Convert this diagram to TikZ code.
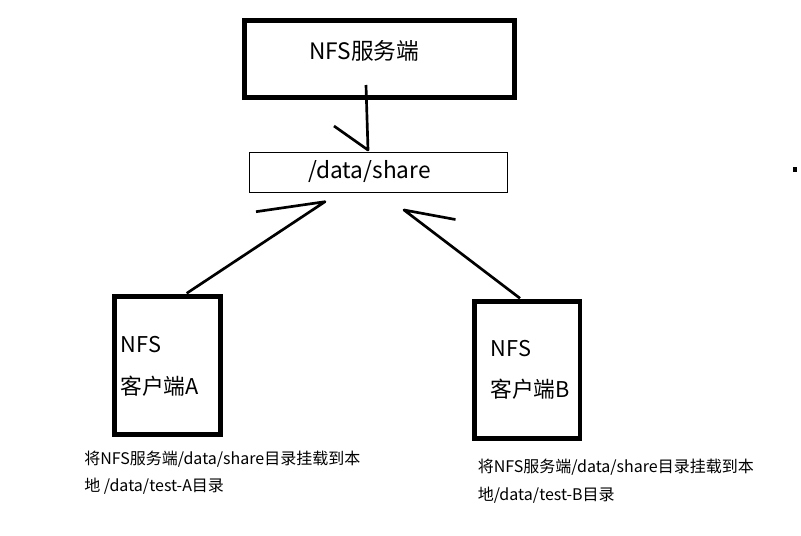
\documentclass[tikz,border=0pt]{standalone}
\usepackage{fontspec}
\newfontfamily\cjk{Noto Sans CJK SC}
\begin{document}
\begin{tikzpicture}[x=0.75pt,y=-0.75pt,
  bigbox/.style={draw,line width=3.75pt,inner sep=0pt,outer sep=0pt},
  cbox/.style={draw,line width=3.5pt,inner sep=0pt,outer sep=0pt},
  thinbox/.style={draw,line width=0.75pt,inner sep=0pt,outer sep=0pt},
  conn/.style={line width=2pt,line join=round},
  lbl/.style={inner sep=0pt,anchor=west,font=\cjk\fontsize{17pt}{19pt}\selectfont},
  clbl/.style={inner sep=0pt,anchor=west,font=\cjk\fontsize{16.3pt}{18pt}\selectfont},
  captxt/.style={inner sep=0pt,anchor=west,font=\cjk\fontsize{12pt}{14pt}\selectfont}]
\useasboundingbox (0,0) rectangle (801,536);
% boxes
\node[bigbox,minimum width=269.2*0.75pt,minimum height=76.7*0.75pt] (srv) at (379.4,59.2) {};
\node[thinbox,minimum width=258*0.75pt,minimum height=39.6*0.75pt] (share) at (378.3,172.5) {};
\node[cbox,minimum width=105.6*0.75pt,minimum height=137.6*0.75pt] (ca) at (167.5,365.5) {};
\node[cbox,minimum width=105.7*0.75pt,minimum height=137*0.75pt] (cb) at (527.3,370) {};
% texts
\node[lbl] (tsrv) at (309,51) {NFS服务端};
\node[lbl] (tshare) at (308,172) {/data/share};
\node[clbl] (ta1) at (120.5,344.5) {NFS};
\node[clbl] (ta2) at (120,386) {客户端A};
\node[clbl] (tb1) at (490.5,348.5) {NFS};
\node[clbl] (tb2) at (490,389) {客户端B};
\node[captxt] (capa1) at (84,459) {将NFS服务端/data/share目录挂载到本};
\node[captxt] (capa2) at (84,486) {地 /data/test-A目录};
\node[captxt] (capb1) at (477.5,467.5) {将NFS服务端/data/share目录挂载到本};
\node[captxt] (capb2) at (477.5,495) {地/data/test-B目录};
% connector points
\coordinate (s0) at (366,85);
\coordinate (s1) at (368,150);
\coordinate (sb) at (334,126);
\coordinate (a0) at (186.7,293.3);
\coordinate (a1) at (325,201.7);
\coordinate (ab) at (256,211.7);
\coordinate (b0) at (520,298.3);
\coordinate (b1) at (404,210);
\coordinate (bb) at (455.5,219.5);
\draw[conn] (s0) -- (s1) -- (sb);
\draw[conn] (a0) -- (a1) -- (ab);
\draw[conn] (b0) -- (b1) -- (bb);
% stray mark
\fill (793.3,167.3) rectangle (796.7,171.7);
\end{tikzpicture}
\end{document}
